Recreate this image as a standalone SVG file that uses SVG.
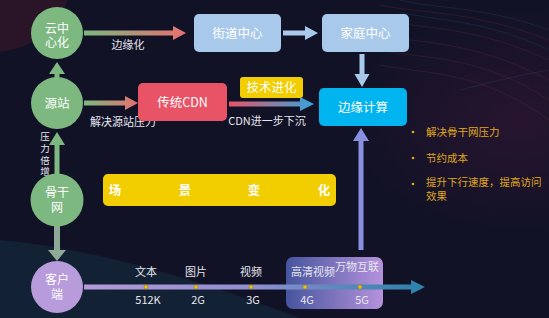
<svg xmlns="http://www.w3.org/2000/svg" width="549" height="318" viewBox="0 0 549 318">
<defs>
<style>
.t{font-family:"Noto Sans CJK SC","Liberation Sans",sans-serif;fill:#ffffff;text-anchor:middle}
.s{font-size:11px;fill:#e6e6ee}
.n{font-size:12.5px}
.c{font-size:12px;font-family:"Liberation Sans","Noto Sans CJK SC",sans-serif}
.b{font-family:"Noto Sans CJK SC","Liberation Sans",sans-serif;font-size:10.5px;fill:#e0a81c}
.g{fill:#7cb87f}
.wave{fill:none;stroke-width:0.6;opacity:0.35}
</style>
<linearGradient id="gr1" gradientUnits="userSpaceOnUse" x1="84" y1="0" x2="186" y2="0"><stop offset="0" stop-color="#7cb87f"/><stop offset="1" stop-color="#e7706f"/></linearGradient>
<linearGradient id="gr2" gradientUnits="userSpaceOnUse" x1="84" y1="0" x2="138" y2="0"><stop offset="0" stop-color="#7cb87f"/><stop offset="1" stop-color="#e7706f"/></linearGradient>
<linearGradient id="gr3" gradientUnits="userSpaceOnUse" x1="229" y1="0" x2="314" y2="0"><stop offset="0" stop-color="#e85466"/><stop offset="1" stop-color="#34a4dc"/></linearGradient>
<linearGradient id="gr4" gradientUnits="userSpaceOnUse" x1="84" y1="0" x2="425" y2="0"><stop offset="0" stop-color="#b59ad9"/><stop offset="0.5" stop-color="#8f8fd0"/><stop offset="1" stop-color="#2a82a8"/></linearGradient>
<linearGradient id="gbox" x1="0" y1="0" x2="1" y2="0"><stop offset="0" stop-color="#46559e"/><stop offset="1" stop-color="#b592dc"/></linearGradient>
<radialGradient id="gright" cx="0.5" cy="0.5" r="0.5"><stop offset="0" stop-color="#2a1530" stop-opacity="0.9"/><stop offset="1" stop-color="#2a1530" stop-opacity="0"/></radialGradient>
</defs>
<rect width="549" height="318" fill="#121227"/>
<!-- background decoration -->
<ellipse cx="-8" cy="-18" rx="78" ry="70" fill="#2a1428"/>
<ellipse cx="520" cy="120" rx="170" ry="110" fill="url(#gright)"/>
<path d="M0 240 Q120 250 300 318 L0 318 Z" fill="#14283a" opacity="0.7"/>
<g class="wave" stroke="#8a3a4a">
<path d="M380 5 C430 15 470 10 549 40"/>
<path d="M380 20 C430 30 470 25 549 60"/>
<path d="M380 35 C430 45 470 40 549 80"/>
<path d="M380 50 C430 60 480 55 549 100"/>
<path d="M380 65 C430 75 480 70 549 120"/>
</g>
<g class="wave" stroke="#2a6a7a">
<path d="M400 0 C440 10 480 5 549 30"/>
<path d="M400 12 C440 22 480 18 549 50"/>
<path d="M460 90 C500 80 520 75 549 70"/>
</g>
<!-- connectors -->
<g id="connectors">
<polygon points="84,30.5 173,30.5 173,26 186,33 173,40 173,35.5 84,35.5" fill="url(#gr1)"/>
<polygon points="84,100.5 125,100.5 125,96 138,103 125,110 125,105.5 84,105.5" fill="url(#gr2)"/>
<polygon points="229,101.5 300,101.5 300,97 314,104 300,111 300,106.5 229,106.5" fill="url(#gr3)"/>
<polygon points="283,30.5 305,30.5 305,26 318,33 305,40 305,35.5 283,35.5" fill="#a9c9ea"/>
<polygon points="359.5,54 364.5,54 364.5,74 369.5,74 362,87 354.5,74 359.5,74" fill="#a9c9ea"/>
<polygon points="54.5,78 59.5,78 59.5,74 65,74 57,62 49,74 54.5,74" class="g"/>
<polygon points="54.5,175 59.5,175 59.5,145 65,145 57,132 49,145 54.5,145" class="g"/>
<polygon points="54,226 60,226 60,250 66,250 57,261 48,250 54,250" fill="#8eaa96"/>
<text writing-mode="tb" style="font-family:'Noto Sans CJK SC','Liberation Sans',sans-serif;font-size:9.5px;fill:#e6e6ee;letter-spacing:2.2px" x="45" y="132">压力倍增</text>
<text class="t s" x="128" y="49">边缘化</text>
<text class="t s" x="123" y="126">解决源站压力</text>
<text class="t s" x="267" y="125">CDN进一步下沉</text>
</g>
<!-- timeline -->
<g id="timeline">
<rect id="highlight" x="286" y="257" width="97" height="52" rx="7" fill="url(#gbox)"/>
<polygon points="84,284.5 411,284.5 411,280 425,287 411,294 411,289.5 84,289.5" fill="url(#gr4)"/>
<g fill="#f2c200" stroke="#8a7a20" stroke-width="0.5">
<circle cx="146" cy="287" r="2"/><circle cx="196" cy="287" r="2"/><circle cx="251" cy="287" r="2"/><circle cx="305" cy="287" r="2"/><circle cx="360" cy="287" r="2"/>
</g>
<text class="t s" x="146" y="276">文本</text>
<text class="t s" x="196" y="276">图片</text>
<text class="t s" x="251" y="276">视频</text>
<text class="t s" x="313" y="276">高清视频</text>
<text class="t s" x="357" y="271">万物互联</text>
<text class="t s" x="148" y="304">512K</text>
<text class="t s" x="198" y="304">2G</text>
<text class="t s" x="253" y="304">3G</text>
<text class="t s" x="307" y="304">4G</text>
<text class="t s" x="362" y="304">5G</text>
<polygon points="358.5,250 363.5,250 363.5,141 369,141 361,128 353,141 358.5,141" fill="#8a90e0"/>
</g>
<!-- nodes -->
<g id="n-cloud"><circle cx="57" cy="33" r="26" class="g"/><text class="t c" x="57" y="33"><tspan x="57" dy="-0.5">云中</tspan><tspan x="57" dy="14.5">心化</tspan></text></g>
<g id="n-origin"><circle cx="57" cy="103" r="26" class="g"/><text class="t n" x="57" y="108">源站</text></g>
<g id="n-backbone"><circle cx="57" cy="200" r="26.5" class="g"/><text class="t c" x="57" y="197"><tspan x="57" dy="0">骨干</tspan><tspan x="57" dy="15">网</tspan></text></g>
<g id="n-client"><circle cx="57" cy="287" r="26" fill="#b79bdb"/><text class="t c" x="57" y="284"><tspan x="57" dy="0">客户</tspan><tspan x="57" dy="15">端</tspan></text></g>
<g id="n-street"><rect x="194" y="14" width="87" height="38" rx="5" fill="#a9c9ea"/><text class="t n" x="237.5" y="38">街道中心</text></g>
<g id="n-home"><rect x="322" y="14" width="87" height="38" rx="5" fill="#a9c9ea"/><text class="t n" x="365.5" y="38">家庭中心</text></g>
<g id="n-cdn"><rect x="138" y="83" width="89" height="38" rx="5" fill="#e85466"/><text class="t n" x="182.5" y="107">传统CDN</text></g>
<g id="n-tech"><rect x="240" y="77" width="63" height="21" rx="3" fill="#f2cd00"/><text class="t n" x="271.5" y="92">技术进化</text></g>
<g id="n-edge"><rect x="319" y="88" width="88" height="38" rx="5" fill="#00b4ef"/><text class="t n" x="363" y="112">边缘计算</text></g>
<g id="n-scene"><rect x="103" y="174" width="233" height="32" rx="5" fill="#f2cd00"/>
<text class="t n" style="font-weight:bold" x="115" y="195">场</text><text class="t n" style="font-weight:bold" x="185" y="195">景</text><text class="t n" style="font-weight:bold" x="254" y="195">变</text><text class="t n" style="font-weight:bold" x="324" y="195">化</text></g>
<g id="bullets">
<circle cx="413" cy="132" r="1.3" fill="#e0a81c"/><text class="b" x="426" y="136">解决骨干网压力</text>
<circle cx="413" cy="158" r="1.3" fill="#e0a81c"/><text class="b" x="426" y="162">节约成本</text>
<circle cx="413" cy="184" r="1.3" fill="#e0a81c"/><text class="b" x="426" y="186"><tspan x="426" dy="0">提升下行速度，提高访问</tspan><tspan x="426" dy="14">效果</tspan></text>
</g>
</svg>
